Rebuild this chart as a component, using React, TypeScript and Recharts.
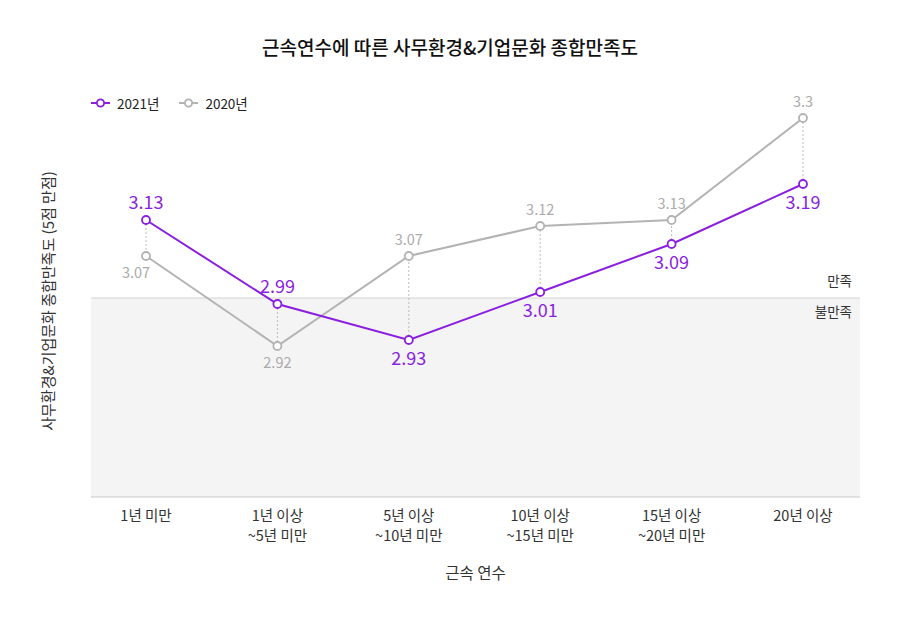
import React from 'react';
import {
  LineChart,
  Line,
  XAxis,
  YAxis,
  ReferenceArea,
  ReferenceLine,
  LabelList,
} from 'recharts';

const categories = [
  '1년 미만',
  '1년 이상\n~5년 미만',
  '5년 이상\n~10년 미만',
  '10년 이상\n~15년 미만',
  '15년 이상\n~20년 미만',
  '20년 이상',
];
const values2021 = [3.13, 2.99, 2.93, 3.01, 3.09, 3.19];
const values2020 = [3.07, 2.92, 3.07, 3.12, 3.13, 3.3];
const seriesNames = ['2021년', '2020년'];
const threshold = 3.0;
const yDomain: [number, number] = [2.6683, 3.4017];

const PURPLE = '#8a1fdf';
const GRAY = '#b3b3b3';
const FONT = '"Noto Sans CJK KR", "Noto Sans", sans-serif';
const X_PAD = { left: 55, right: 57 };

const data = categories.map((c, i) => ({
  cat: c,
  v2021: values2021[i],
  v2020: values2020[i],
}));

const CategoryTick = (props: any) => {
  const { x, y, payload } = props;
  const lines = String(payload.value).split('\n');
  return (
    <text x={x} y={y} textAnchor="middle" fill="#333" fontSize={14.5} fontFamily={FONT}>
      {lines.map((l, i) => (
        <tspan key={i} x={x} dy={i === 0 ? 16 : 19.5}>
          {l}
        </tspan>
      ))}
    </text>
  );
};

const makeLabel =
  (own: number[], other: number[], color: string, size: number, aboveGap: number, belowGap: number) =>
  (props: any) => {
    const { x, y, value, index } = props;
    const above = own[index] >= other[index];
    const dx = !above && index === 0 ? -10 : 0;
    const ty = above ? y - aboveGap : y + belowGap;
    return (
      <text
        x={x + dx}
        y={ty}
        textAnchor="middle"
        fill={color}
        fontSize={size}
        fontFamily={FONT}
      >
        {value}
      </text>
    );
  };

const YLabel = () => (
  <text
    x={47}
    y={301}
    transform="rotate(-90 47 301)"
    textAnchor="middle"
    dominantBaseline="central"
    fill="#333"
    fontSize={15}
    fontFamily={FONT}
  >
    사무환경&기업문화 종합만족도 (5점 만점)
  </text>
);

const ShadeShape = (props: any) => {
  const { x, y, width, height } = props;
  return (
    <rect
      x={x - X_PAD.left}
      y={y}
      width={width + X_PAD.left + X_PAD.right}
      height={height}
      fill="#f4f4f4"
      stroke="none"
    />
  );
};

const LegendItem = ({ color, label }: { color: string; label: string }) => (
  <span style={{ display: 'inline-flex', alignItems: 'center', marginRight: 20 }}>
    <svg width={19} height={10} style={{ marginRight: 7 }}>
      <line x1={0} y1={5} x2={19} y2={5} stroke={color} strokeWidth={2} />
      <circle cx={9.5} cy={5} r={3.6} fill="#fff" stroke={color} strokeWidth={1.8} />
    </svg>
    <span style={{ fontSize: 13.5, color: '#222' }}>{label}</span>
  </span>
);

export default function App() {
  return (
    <div
      style={{
        position: 'absolute',
        left: 0,
        top: 0,
        width: 900,
        height: 621,
        background: '#fff',
        fontFamily: FONT,
      }}
    >
      <div
        style={{
          position: 'absolute',
          left: 0,
          top: 33,
          width: 900,
          textAlign: 'center',
          fontSize: 19,
          fontWeight: 500,
          color: '#111',
          lineHeight: '28px',
        }}
      >
        근속연수에 따른 사무환경&기업문화 종합만족도
      </div>
      <div
        style={{
          position: 'absolute',
          left: 91,
          top: 93,
          display: 'flex',
          alignItems: 'center',
          lineHeight: '20px',
        }}
      >
        <LegendItem color={PURPLE} label={seriesNames[0]} />
        <LegendItem color={GRAY} label={seriesNames[1]} />
      </div>
      <LineChart
        width={900}
        height={621}
        data={data}
        margin={{ top: 57, right: 40, bottom: 0, left: 0 }}
        style={{ position: 'absolute', left: 0, top: 0 }}
      >
        <XAxis
          dataKey="cat"
          height={124}
          padding={X_PAD}
          tickLine={false}
          axisLine={{ stroke: '#c8c8c8' }}
          tick={<CategoryTick />}
          interval={0}
          label={{
            value: '근속 연수',
            position: 'insideBottom',
            offset: 42,
            fill: '#333',
            fontSize: 15.5,
            fontFamily: FONT,
          }}
        />
        <YAxis
          width={91}
          domain={yDomain}
          allowDataOverflow
          tick={false}
          tickLine={false}
          axisLine={false}
          label={<YLabel />}
        />
        <ReferenceArea
          y1={yDomain[0]}
          y2={threshold}
          fill="#f4f4f4"
          fillOpacity={1}
          stroke="none"
          ifOverflow="visible"
          shape={<ShadeShape />}
        />
        <ReferenceLine
          y={threshold}
          stroke="#d4d4d4"
          strokeWidth={1}
          label={(p: any) => {
            const vb = p.viewBox || {};
            const rx = (vb.x || 0) + (vb.width || 0) - 8;
            return (
              <g>
                <text x={rx} y={(vb.y || 0) - 12} textAnchor="end" fill="#333" fontSize={13.5} fontFamily={FONT}>
                  만족
                </text>
                <text x={rx} y={(vb.y || 0) + 19} textAnchor="end" fill="#333" fontSize={13.5} fontFamily={FONT}>
                  불만족
                </text>
              </g>
            );
          }}
        />
        {data.map((d) => (
          <ReferenceLine
            key={d.cat}
            segment={[
              { x: d.cat, y: d.v2021 },
              { x: d.cat, y: d.v2020 },
            ]}
            stroke="#bbbbbb"
            strokeWidth={1}
            strokeDasharray="2 2"
          />
        ))}
        <Line
          dataKey="v2020"
          name={seriesNames[1]}
          stroke={GRAY}
          strokeWidth={2}
          dot={{ r: 4, fill: '#fff', stroke: GRAY, strokeWidth: 1.8 }}
          activeDot={false}
          isAnimationActive={false}
        >
          <LabelList dataKey="v2020" content={makeLabel(values2020, values2021, '#aaaaaa', 14.5, 11, 22)} />
        </Line>
        <Line
          dataKey="v2021"
          name={seriesNames[0]}
          stroke={PURPLE}
          strokeWidth={2}
          dot={{ r: 4, fill: '#fff', stroke: PURPLE, strokeWidth: 1.8 }}
          activeDot={false}
          isAnimationActive={false}
        >
          <LabelList dataKey="v2021" content={makeLabel(values2021, values2020, PURPLE, 18, 11, 25)} />
        </Line>
      </LineChart>
    </div>
  );
}
